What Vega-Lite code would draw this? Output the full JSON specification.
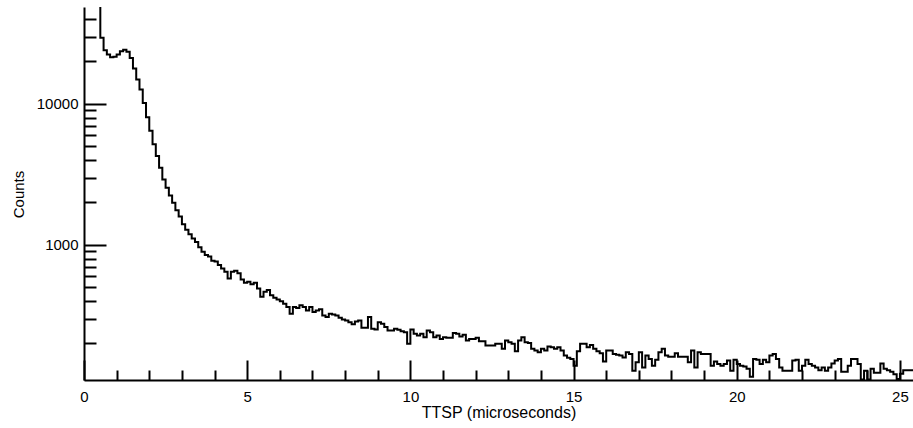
{
  "$schema": "https://vega.github.io/schema/vega-lite/v6.json",
  "width": 829,
  "height": 373,
  "autosize": {"type": "none"},
  "padding": {"left": 84, "top": 7, "right": 0, "bottom": 48},
  "background": "white",
  "config": {"view": {"stroke": null}, "font": "Liberation Sans"},
  "data": {"values": [
    {"t": 0.4, "counts": 60000}, {"t": 0.5, "counts": 29450}, {"t": 0.6, "counts": 24050}, {"t": 0.7, "counts": 22400},
    {"t": 0.8, "counts": 21400}, {"t": 0.9, "counts": 21650}, {"t": 1.0, "counts": 22400}, {"t": 1.1, "counts": 23650},
    {"t": 1.2, "counts": 24200}, {"t": 1.3, "counts": 23400}, {"t": 1.4, "counts": 21200}, {"t": 1.5, "counts": 17800},
    {"t": 1.6, "counts": 14900}, {"t": 1.7, "counts": 12650}, {"t": 1.8, "counts": 10160}, {"t": 1.9, "counts": 8040},
    {"t": 2.0, "counts": 6450}, {"t": 2.1, "counts": 5180}, {"t": 2.2, "counts": 4270}, {"t": 2.3, "counts": 3530},
    {"t": 2.4, "counts": 2910}, {"t": 2.5, "counts": 2540}, {"t": 2.6, "counts": 2240}, {"t": 2.7, "counts": 1990},
    {"t": 2.8, "counts": 1760}, {"t": 2.9, "counts": 1590}, {"t": 3.0, "counts": 1400}, {"t": 3.1, "counts": 1280},
    {"t": 3.2, "counts": 1190}, {"t": 3.3, "counts": 1110}, {"t": 3.4, "counts": 1050}, {"t": 3.5, "counts": 962},
    {"t": 3.6, "counts": 895}, {"t": 3.7, "counts": 848}, {"t": 3.8, "counts": 826}, {"t": 3.9, "counts": 773},
    {"t": 4.0, "counts": 761}, {"t": 4.1, "counts": 720}, {"t": 4.2, "counts": 681}, {"t": 4.3, "counts": 644},
    {"t": 4.4, "counts": 578}, {"t": 4.5, "counts": 644}, {"t": 4.6, "counts": 655}, {"t": 4.7, "counts": 628},
    {"t": 4.8, "counts": 569}, {"t": 4.9, "counts": 538}, {"t": 5.0, "counts": 547}, {"t": 5.1, "counts": 526},
    {"t": 5.2, "counts": 538}, {"t": 5.3, "counts": 491}, {"t": 5.4, "counts": 428}, {"t": 5.5, "counts": 465},
    {"t": 5.6, "counts": 478}, {"t": 5.7, "counts": 440}, {"t": 5.8, "counts": 421}, {"t": 5.9, "counts": 409},
    {"t": 6.0, "counts": 398}, {"t": 6.1, "counts": 383}, {"t": 6.2, "counts": 362}, {"t": 6.3, "counts": 325},
    {"t": 6.4, "counts": 362}, {"t": 6.5, "counts": 357}, {"t": 6.6, "counts": 373}, {"t": 6.7, "counts": 362},
    {"t": 6.8, "counts": 343}, {"t": 6.9, "counts": 362}, {"t": 7.0, "counts": 334}, {"t": 7.1, "counts": 343},
    {"t": 7.2, "counts": 349}, {"t": 7.3, "counts": 316}, {"t": 7.4, "counts": 308}, {"t": 7.5, "counts": 325},
    {"t": 7.6, "counts": 321}, {"t": 7.7, "counts": 316}, {"t": 7.8, "counts": 304}, {"t": 7.9, "counts": 296},
    {"t": 8.0, "counts": 291}, {"t": 8.1, "counts": 283}, {"t": 8.2, "counts": 273}, {"t": 8.3, "counts": 286},
    {"t": 8.4, "counts": 291}, {"t": 8.5, "counts": 258}, {"t": 8.6, "counts": 258}, {"t": 8.7, "counts": 308},
    {"t": 8.8, "counts": 254}, {"t": 8.9, "counts": 251}, {"t": 9.0, "counts": 283}, {"t": 9.1, "counts": 276},
    {"t": 9.2, "counts": 261}, {"t": 9.3, "counts": 247}, {"t": 9.4, "counts": 247}, {"t": 9.5, "counts": 254},
    {"t": 9.6, "counts": 250}, {"t": 9.7, "counts": 244}, {"t": 9.8, "counts": 240}, {"t": 9.9, "counts": 199},
    {"t": 10.0, "counts": 251}, {"t": 10.1, "counts": 234}, {"t": 10.2, "counts": 228}, {"t": 10.3, "counts": 234},
    {"t": 10.4, "counts": 221}, {"t": 10.5, "counts": 247}, {"t": 10.6, "counts": 240}, {"t": 10.7, "counts": 221},
    {"t": 10.8, "counts": 228}, {"t": 10.9, "counts": 215}, {"t": 11.0, "counts": 221}, {"t": 11.1, "counts": 219},
    {"t": 11.2, "counts": 219}, {"t": 11.3, "counts": 237}, {"t": 11.4, "counts": 234}, {"t": 11.5, "counts": 224},
    {"t": 11.6, "counts": 230}, {"t": 11.7, "counts": 210}, {"t": 11.8, "counts": 215}, {"t": 11.9, "counts": 215},
    {"t": 12.0, "counts": 219}, {"t": 12.1, "counts": 207}, {"t": 12.2, "counts": 207}, {"t": 12.3, "counts": 193},
    {"t": 12.4, "counts": 193}, {"t": 12.5, "counts": 193}, {"t": 12.6, "counts": 199}, {"t": 12.7, "counts": 199},
    {"t": 12.8, "counts": 183}, {"t": 12.9, "counts": 210}, {"t": 13.0, "counts": 204}, {"t": 13.1, "counts": 199},
    {"t": 13.2, "counts": 176}, {"t": 13.3, "counts": 210}, {"t": 13.4, "counts": 221}, {"t": 13.5, "counts": 204},
    {"t": 13.6, "counts": 201}, {"t": 13.7, "counts": 183}, {"t": 13.8, "counts": 178}, {"t": 13.9, "counts": 173},
    {"t": 14.0, "counts": 183}, {"t": 14.1, "counts": 178}, {"t": 14.2, "counts": 190}, {"t": 14.3, "counts": 188},
    {"t": 14.4, "counts": 183}, {"t": 14.5, "counts": 188}, {"t": 14.6, "counts": 178}, {"t": 14.7, "counts": 164},
    {"t": 14.8, "counts": 158}, {"t": 14.9, "counts": 155}, {"t": 15.0, "counts": 139}, {"t": 15.1, "counts": 176},
    {"t": 15.2, "counts": 199}, {"t": 15.3, "counts": 199}, {"t": 15.4, "counts": 188}, {"t": 15.5, "counts": 195},
    {"t": 15.6, "counts": 183}, {"t": 15.7, "counts": 176}, {"t": 15.8, "counts": 170}, {"t": 15.9, "counts": 149},
    {"t": 16.0, "counts": 178}, {"t": 16.1, "counts": 178}, {"t": 16.2, "counts": 168}, {"t": 16.3, "counts": 166},
    {"t": 16.4, "counts": 164}, {"t": 16.5, "counts": 159}, {"t": 16.6, "counts": 173}, {"t": 16.7, "counts": 168},
    {"t": 16.8, "counts": 128}, {"t": 16.9, "counts": 147}, {"t": 17.0, "counts": 173}, {"t": 17.1, "counts": 135},
    {"t": 17.2, "counts": 164}, {"t": 17.3, "counts": 155}, {"t": 17.4, "counts": 139}, {"t": 17.5, "counts": 153},
    {"t": 17.6, "counts": 173}, {"t": 17.7, "counts": 183}, {"t": 17.8, "counts": 164}, {"t": 17.9, "counts": 161},
    {"t": 18.0, "counts": 161}, {"t": 18.1, "counts": 170}, {"t": 18.2, "counts": 161}, {"t": 18.3, "counts": 161},
    {"t": 18.4, "counts": 161}, {"t": 18.5, "counts": 147}, {"t": 18.6, "counts": 178}, {"t": 18.7, "counts": 135},
    {"t": 18.8, "counts": 173}, {"t": 18.9, "counts": 168}, {"t": 19.0, "counts": 168}, {"t": 19.1, "counts": 168},
    {"t": 19.2, "counts": 139}, {"t": 19.3, "counts": 149}, {"t": 19.4, "counts": 143}, {"t": 19.5, "counts": 139},
    {"t": 19.6, "counts": 143}, {"t": 19.7, "counts": 151}, {"t": 19.8, "counts": 128}, {"t": 19.9, "counts": 153},
    {"t": 20.0, "counts": 143}, {"t": 20.1, "counts": 139}, {"t": 20.2, "counts": 137}, {"t": 20.3, "counts": 132},
    {"t": 20.4, "counts": 116}, {"t": 20.5, "counts": 155}, {"t": 20.6, "counts": 153}, {"t": 20.7, "counts": 143},
    {"t": 20.8, "counts": 153}, {"t": 20.9, "counts": 147}, {"t": 21.0, "counts": 164}, {"t": 21.1, "counts": 168},
    {"t": 21.2, "counts": 155}, {"t": 21.3, "counts": 135}, {"t": 21.4, "counts": 128}, {"t": 21.5, "counts": 128},
    {"t": 21.6, "counts": 128}, {"t": 21.7, "counts": 151}, {"t": 21.8, "counts": 153}, {"t": 21.9, "counts": 128},
    {"t": 22.0, "counts": 139}, {"t": 22.1, "counts": 153}, {"t": 22.2, "counts": 143}, {"t": 22.3, "counts": 139},
    {"t": 22.4, "counts": 135}, {"t": 22.5, "counts": 129}, {"t": 22.6, "counts": 135}, {"t": 22.7, "counts": 128},
    {"t": 22.8, "counts": 135}, {"t": 22.9, "counts": 144}, {"t": 23.0, "counts": 151}, {"t": 23.1, "counts": 155},
    {"t": 23.2, "counts": 126}, {"t": 23.3, "counts": 126}, {"t": 23.4, "counts": 139}, {"t": 23.5, "counts": 155},
    {"t": 23.6, "counts": 155}, {"t": 23.7, "counts": 143}, {"t": 23.8, "counts": 111}, {"t": 23.9, "counts": 128},
    {"t": 24.0, "counts": 111}, {"t": 24.1, "counts": 132}, {"t": 24.2, "counts": 124}, {"t": 24.3, "counts": 124},
    {"t": 24.4, "counts": 144}, {"t": 24.5, "counts": 132}, {"t": 24.6, "counts": 129}, {"t": 24.7, "counts": 126},
    {"t": 24.8, "counts": 121}, {"t": 24.9, "counts": 112}, {"t": 25.0, "counts": 122}, {"t": 25.1, "counts": 129},
    {"t": 25.2, "counts": 129}, {"t": 25.3, "counts": 129}, {"t": 25.4, "counts": 129}
  ]},
  "mark": {"type": "line", "interpolate": "step-after", "color": "black", "strokeWidth": 2, "clip": true},
  "encoding": {
    "x": {
      "field": "t", "type": "quantitative",
      "scale": {"domain": [0, 25.4], "nice": false, "zero": false},
      "axis": {
        "title": "TTSP (microseconds)",
        "values": [0,1,2,3,4,5,6,7,8,9,10,11,12,13,14,15,16,17,18,19,20,21,22,23,24,25],
        "labelExpr": "datum.value % 5 == 0 ? datum.label : ''",
        "tickSize": {"condition": {"test": "datum.value % 5 == 0", "value": -20}, "value": -10},
        "tickWidth": 2, "tickColor": "black",
        "domainColor": "black", "domainWidth": 2,
        "labelFontSize": 15, "labelColor": "black", "labelPadding": 29,
        "labelFlush": false, "labelOverlap": false, "labelBound": false,
        "titleFontSize": 16, "titleFontWeight": "normal", "titleColor": "black",
        "titleY": 24, "titleBaseline": "top",
        "grid": false
      }
    },
    "y": {
      "field": "counts", "type": "quantitative",
      "scale": {"type": "log", "domain": [110, 48700], "nice": false},
      "axis": {
        "title": "Counts",
        "values": [200,300,400,500,600,700,800,900,1000,2000,3000,4000,5000,6000,7000,8000,9000,10000,20000,30000,40000],
        "format": "d",
        "labelExpr": "datum.value == 1000 || datum.value == 10000 ? datum.label : ''",
        "tickSize": {"condition": {"test": "datum.value == 1000 || datum.value == 10000", "value": -22}, "value": -12},
        "tickWidth": 2, "tickColor": "black",
        "domainColor": "black", "domainWidth": 2,
        "labelFontSize": 15, "labelColor": "black", "labelPadding": 28,
        "labelOverlap": false, "labelBound": false, "labelFlush": false,
        "titleFontSize": 15, "titleFontWeight": "normal", "titleColor": "black",
        "titleX": -61, "titleY": 187, "titleBaseline": "alphabetic",
        "grid": false
      }
    }
  }
}
